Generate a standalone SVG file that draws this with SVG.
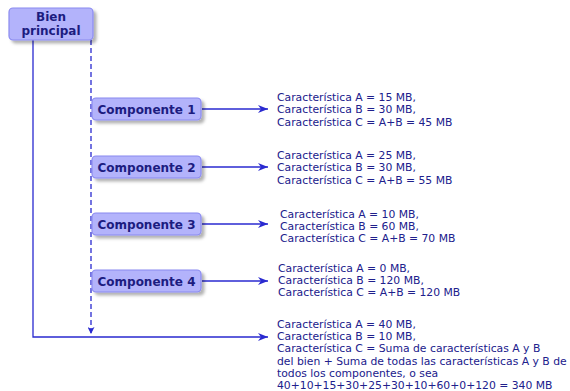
<svg xmlns="http://www.w3.org/2000/svg" width="570" height="391" viewBox="0 0 570 391">
<defs>
<filter id="sh" x="-20%" y="-20%" width="150%" height="160%">
<feGaussianBlur in="SourceAlpha" stdDeviation="1.5"/>
<feOffset dx="3" dy="3" result="b"/>
<feFlood flood-color="#000" flood-opacity="0.3"/>
<feComposite in2="b" operator="in"/>
<feMerge><feMergeNode/><feMergeNode in="SourceGraphic"/></feMerge>
</filter>
<marker id="ah" viewBox="0 0 10 8" refX="10" refY="4" markerWidth="10" markerHeight="8" markerUnits="userSpaceOnUse" orient="auto">
<path d="M0,0 L10,4 L0,8 L3,4 Z" fill="#2a2ad0"/>
</marker>
<marker id="ahs" viewBox="0 0 8 8" refX="8" refY="4" markerWidth="7" markerHeight="7" markerUnits="userSpaceOnUse" orient="auto">
<path d="M0,0 L8,4 L0,8 L2,4 Z" fill="#2a2ad0"/>
</marker>
</defs>
<style>
.box{fill:#b3b3fb;stroke:#8a8af0;stroke-width:1.2}
.lbl{font-family:"DejaVu Sans",Verdana,sans-serif;font-size:12px;font-weight:bold;fill:#1c1c80;text-anchor:middle}
.t{font-family:"DejaVu Sans",Verdana,sans-serif;font-size:10.8px;fill:#20208c}
.ln{stroke:#2a2ad0;stroke-width:1.3;fill:none}
.dash{stroke-dasharray:5,3}
</style>
<rect width="570" height="391" fill="#fff"/>
<g id="connectors">
<path class="ln" d="M33,40 V337 H268" marker-end="url(#ah)"/>
<path class="ln dash" d="M91,40 V334" marker-end="url(#ahs)"/>
<path class="ln" d="M202,109 H268" marker-end="url(#ah)"/>
<path class="ln" d="M202,167 H268" marker-end="url(#ah)"/>
<path class="ln" d="M202,224 H268" marker-end="url(#ah)"/>
<path class="ln" d="M202,281 H268" marker-end="url(#ah)"/>
</g>
<g id="bien">
<rect class="box" x="9" y="8" width="84" height="32" rx="4" filter="url(#sh)"/>
<text class="lbl" x="51" y="21">Bien</text>
<text class="lbl" x="51" y="35">principal</text>
</g>
<g id="comp1">
<rect class="box" x="92" y="98" width="109" height="22" rx="4" filter="url(#sh)"/>
<text class="lbl" x="146.5" y="113.5">Componente 1</text>
</g>
<g id="comp2">
<rect class="box" x="92" y="156" width="109" height="22" rx="4" filter="url(#sh)"/>
<text class="lbl" x="146.5" y="171.5">Componente 2</text>
</g>
<g id="comp3">
<rect class="box" x="92" y="213" width="109" height="22" rx="4" filter="url(#sh)"/>
<text class="lbl" x="146.5" y="228.5">Componente 3</text>
</g>
<g id="comp4">
<rect class="box" x="92" y="270" width="109" height="22" rx="4" filter="url(#sh)"/>
<text class="lbl" x="146.5" y="285.5">Componente 4</text>
</g>
<g id="t1">
<text class="t" x="277" y="101">Característica A = 15 MB,</text>
<text class="t" x="277" y="113">Característica B = 30 MB,</text>
<text class="t" x="277" y="126">Característica C = A+B = 45 MB</text>
</g>
<g id="t2">
<text class="t" x="277" y="159">Característica A = 25 MB,</text>
<text class="t" x="277" y="171">Característica B = 30 MB,</text>
<text class="t" x="277" y="184">Característica C = A+B = 55 MB</text>
</g>
<g id="t3">
<text class="t" x="280" y="218">Característica A = 10 MB,</text>
<text class="t" x="280" y="230">Característica B = 60 MB,</text>
<text class="t" x="280" y="242">Característica C = A+B = 70 MB</text>
</g>
<g id="t4">
<text class="t" x="278" y="272">Característica A = 0 MB,</text>
<text class="t" x="278" y="284">Característica B = 120 MB,</text>
<text class="t" x="278" y="296">Característica C = A+B = 120 MB</text>
</g>
<g id="t5">
<text class="t" x="277" y="328">Característica A = 40 MB,</text>
<text class="t" x="277" y="340">Característica B = 10 MB,</text>
<text class="t" x="277" y="352">Característica C = Suma de características A y B</text>
<text class="t" x="277" y="365">del bien + Suma de todas las características A y B de</text>
<text class="t" x="277" y="377">todos los componentes, o sea</text>
<text class="t" x="277" y="389">40+10+15+30+25+30+10+60+0+120 = 340 MB</text>
</g>
</svg>
